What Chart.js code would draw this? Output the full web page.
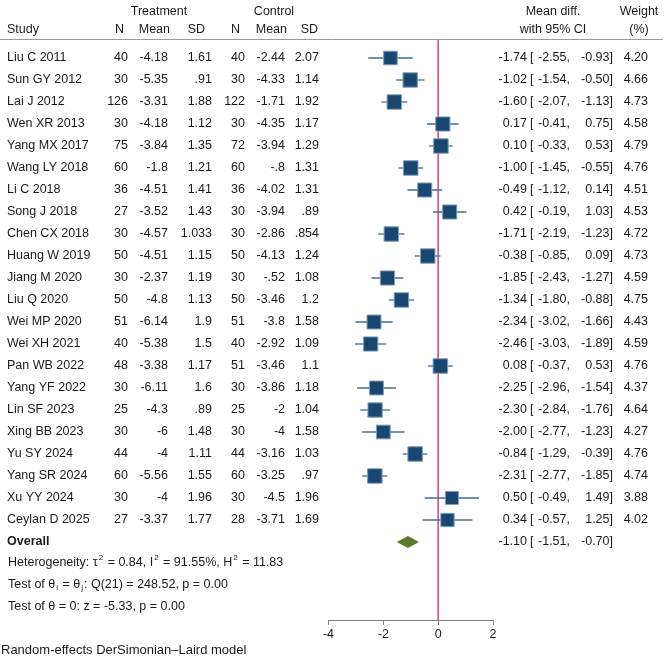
<!DOCTYPE html>
<html>
<head>
<meta charset="utf-8">
<script src="https://cdn.jsdelivr.net/npm/chart.js@4"></script>
<style>
  html, body { margin: 0; padding: 0; background: #fff; }
</style>
</head>
<body>
<canvas id="forest" width="669" height="658"></canvas>
<script>
// study table
const studies = ['Liu C 2011', 'Sun GY 2012', 'Lai J 2012', 'Wen XR 2013', 'Yang MX 2017', 'Wang LY 2018',
  'Li C 2018', 'Song J 2018', 'Chen CX 2018', 'Huang W 2019', 'Jiang M 2020', 'Liu Q 2020', 'Wei MP 2020',
  'Wei XH 2021', 'Pan WB 2022', 'Yang YF 2022', 'Lin SF 2023', 'Xing BB 2023', 'Yu SY 2024', 'Yang SR 2024',
  'Xu YY 2024', 'Ceylan D 2025'];
const nTreat    = ['40', '30', '126', '30', '75', '60', '36', '27', '30', '50', '30', '50', '51', '40', '48', '30', '25', '30', '44', '60', '30', '27'];
const meanTreat = ['-4.18', '-5.35', '-3.31', '-4.18', '-3.84', '-1.8', '-4.51', '-3.52', '-4.57', '-4.51', '-2.37', '-4.8', '-6.14', '-5.38', '-3.38', '-6.11', '-4.3', '-6', '-4', '-5.56', '-4', '-3.37'];
const sdTreat   = ['1.61', '.91', '1.88', '1.12', '1.35', '1.21', '1.41', '1.43', '1.033', '1.15', '1.19', '1.13', '1.9', '1.5', '1.17', '1.6', '.89', '1.48', '1.11', '1.55', '1.96', '1.77'];
const nCtrl     = ['40', '30', '122', '30', '72', '60', '36', '30', '30', '50', '30', '50', '51', '40', '51', '30', '25', '30', '44', '60', '30', '28'];
const meanCtrl  = ['-2.44', '-4.33', '-1.71', '-4.35', '-3.94', '-.8', '-4.02', '-3.94', '-2.86', '-4.13', '-.52', '-3.46', '-3.8', '-2.92', '-3.46', '-3.86', '-2', '-4', '-3.16', '-3.25', '-4.5', '-3.71'];
const sdCtrl    = ['2.07', '1.14', '1.92', '1.17', '1.29', '1.31', '1.31', '.89', '.854', '1.24', '1.08', '1.2', '1.58', '1.09', '1.1', '1.18', '1.04', '1.58', '1.03', '.97', '1.96', '1.69'];

// effect sizes
const meanDiff = [-1.74, -1.02, -1.60, 0.17, 0.10, -1.00, -0.49, 0.42, -1.71, -0.38, -1.85, -1.34, -2.34, -2.46, 0.08, -2.25, -2.30, -2.00, -0.84, -2.31, 0.50, 0.34];
const ciLow    = [-2.55, -1.54, -2.07, -0.41, -0.33, -1.45, -1.12, -0.19, -2.19, -0.85, -2.43, -1.80, -3.02, -3.03, -0.37, -2.96, -2.84, -2.77, -1.29, -2.77, -0.49, -0.57];
const ciHigh   = [-0.93, -0.50, -1.13, 0.75, 0.53, -0.55, 0.14, 1.03, -1.23, 0.09, -1.27, -0.88, -1.66, -1.89, 0.53, -1.54, -1.76, -1.23, -0.39, -1.85, 1.49, 1.25];
const weights  = [4.20, 4.66, 4.73, 4.58, 4.79, 4.76, 4.51, 4.53, 4.72, 4.73, 4.59, 4.75, 4.43, 4.59, 4.76, 4.37, 4.64, 4.27, 4.76, 4.74, 3.88, 4.02];

const overallMD = [-1.10, -1.51, -0.70];   // estimate, lower, upper

const FONT = '"Liberation Sans", Arial, sans-serif';
const FS = 12.5;
const TXT = '#1a1a1a';
const rowStep = 22;  // px per study row

function txt(ctx, s, x, y, align, bold, size) {
  ctx.font = (bold ? 'bold ' : '') + (size || FS) + 'px ' + FONT;
  ctx.textAlign = align || 'left';
  ctx.fillText(s, x, y);
}

// texte avec exposants / indices
function runs(ctx, parts, x, y) {
  ctx.textAlign = 'left';
  parts.forEach(p => {
    if (p.sup || p.sub) {
      ctx.font = '8px ' + FONT;
      ctx.fillText(p.t, x + 1, y + (p.sup ? -5 : 3));
      x += ctx.measureText(p.t).width + 2;
    } else {
      ctx.font = FS + 'px ' + FONT;
      ctx.fillText(p.t, x, y);
      x += ctx.measureText(p.t).width;
    }
  });
}

function ciText(ctx, est, lo, hi, py) {
  txt(ctx, est.toFixed(2), 527, py, 'right');
  txt(ctx, '[', 530, py);
  txt(ctx, lo.toFixed(2) + ',', 570, py, 'right');
  txt(ctx, hi.toFixed(2) + ']', 613, py, 'right');
}

const forestPlugin = {
  id: 'forest',
  beforeDatasetsDraw(chart) {
    const { ctx, chartArea, scales: { x, y } } = chart;
    ctx.save();
    // header rule
    ctx.strokeStyle = '#9a9a9a';
    ctx.lineWidth = 1;
    ctx.beginPath(); ctx.moveTo(0, 39.5); ctx.lineTo(663, 39.5); ctx.stroke();
    // no-effect line
    const x0 = x.getPixelForValue(0);
    ctx.strokeStyle = '#de3f78';
    ctx.lineWidth = 1.5;
    ctx.beginPath(); ctx.moveTo(x0, chartArea.top); ctx.lineTo(x0, chartArea.bottom); ctx.stroke();
    // CIs
    ctx.strokeStyle = '#3f6c97';
    ctx.lineWidth = 1.3;
    ciLow.forEach((l, i) => {
      const py = y.getPixelForValue(i);
      ctx.beginPath();
      ctx.moveTo(x.getPixelForValue(l), py);
      ctx.lineTo(x.getPixelForValue(ciHigh[i]), py);
      ctx.stroke();
    });
    ctx.restore();
  },
  afterDatasetsDraw(chart) {
    const { ctx, scales: { x, y } } = chart;
    const py = y.getPixelForValue(studies.length);
    ctx.save();
    ctx.fillStyle = '#5a7b2c';
    ctx.beginPath();
    ctx.moveTo(x.getPixelForValue(overallMD[1]), py);
    ctx.lineTo(x.getPixelForValue(overallMD[0]), py - 6);
    ctx.lineTo(x.getPixelForValue(overallMD[2]), py);
    ctx.lineTo(x.getPixelForValue(overallMD[0]), py + 6);
    ctx.closePath();
    ctx.fill();
    ctx.restore();
  },
  afterDraw(chart) {
    const { ctx, scales: { y } } = chart;
    ctx.save();
    ctx.fillStyle = TXT;
    ctx.textBaseline = 'middle';

    // headers
    txt(ctx, 'Treatment', 159, 12, 'center');
    txt(ctx, 'Control', 274, 12, 'center');
    txt(ctx, 'Mean diff.', 553, 12, 'center');
    txt(ctx, 'Weight', 639, 12, 'center');
    txt(ctx, 'Study', 7, 30);
    txt(ctx, 'N', 124, 30, 'right');
    txt(ctx, 'Mean', 170, 30, 'right');
    txt(ctx, 'SD', 205, 30, 'right');
    txt(ctx, 'N', 240, 30, 'right');
    txt(ctx, 'Mean', 287, 30, 'right');
    txt(ctx, 'SD', 318, 30, 'right');
    txt(ctx, 'with 95% CI', 553, 30, 'center');
    txt(ctx, '(%)', 639, 30, 'center');

    studies.forEach((s, i) => {
      const py = y.getPixelForValue(i);
      txt(ctx, s, 7, py);
      txt(ctx, nTreat[i], 128, py, 'right');
      txt(ctx, meanTreat[i], 168, py, 'right');
      txt(ctx, sdTreat[i], 212, py, 'right');
      txt(ctx, nCtrl[i], 245, py, 'right');
      txt(ctx, meanCtrl[i], 285, py, 'right');
      txt(ctx, sdCtrl[i], 319, py, 'right');
      ciText(ctx, meanDiff[i], ciLow[i], ciHigh[i], py);
      txt(ctx, weights[i].toFixed(2), 648, py, 'right');
    });

    const po = y.getPixelForValue(studies.length);
    txt(ctx, 'Overall', 7, po, 'left', true);
    ciText(ctx, overallMD[0], overallMD[1], overallMD[2], po);

    runs(ctx, [{ t: 'Heterogeneity: \u03c4' }, { t: '2', sup: true }, { t: ' = 0.84, I' }, { t: '2', sup: true },
      { t: ' = 91.55%, H' }, { t: '2', sup: true }, { t: ' = 11.83' }], 8, po + 21);
    runs(ctx, [{ t: 'Test of \u03b8' }, { t: 'i', sub: true }, { t: ' = \u03b8' }, { t: 'j', sub: true },
      { t: ': Q(21) = 248.52, p = 0.00' }], 8, po + 43);
    runs(ctx, [{ t: 'Test of \u03b8 = 0: z = -5.33, p = 0.00' }], 8, po + 65);

    txt(ctx, 'Random-effects DerSimonian\u2013Laird model', 1, 650, 'left', false, 13);
    ctx.restore();
  }
};

new Chart(document.getElementById('forest'), {
  type: 'scatter',
  data: {
    datasets: [{
      data: meanDiff.map((v, i) => ({ x: v, y: i })),
      pointStyle: 'rect',
      pointRadius: c => 4.7 * Math.sqrt(weights[c.dataIndex] || 4),
      backgroundColor: '#1a476f',
      borderColor: '#7f9fc0',
      borderWidth: 1
    }]
  },
  options: {
    responsive: false,
    animation: false,
    devicePixelRatio: 1,
    layout: { padding: { left: 328.5, right: 176, top: 40, bottom: 0 } },
    plugins: { legend: { display: false }, tooltip: { enabled: false } },
    scales: {
      x: {
        type: 'linear',
        min: -4,
        max: 2,
        afterFit: s => { s.height = 38; },
        border: { display: true, color: '#808080', width: 1 },
        grid: { drawOnChartArea: false, drawTicks: true, tickLength: 5, color: '#808080' },
        ticks: { stepSize: 2, color: TXT, padding: 2, font: { family: FONT, size: FS } }
      },
      y: {
        type: 'linear',
        display: false,
        reverse: true,
        min: -18 / rowStep,
        max: -18 / rowStep + 580 / rowStep
      }
    }
  },
  plugins: [forestPlugin]
});
</script>
</body>
</html>
